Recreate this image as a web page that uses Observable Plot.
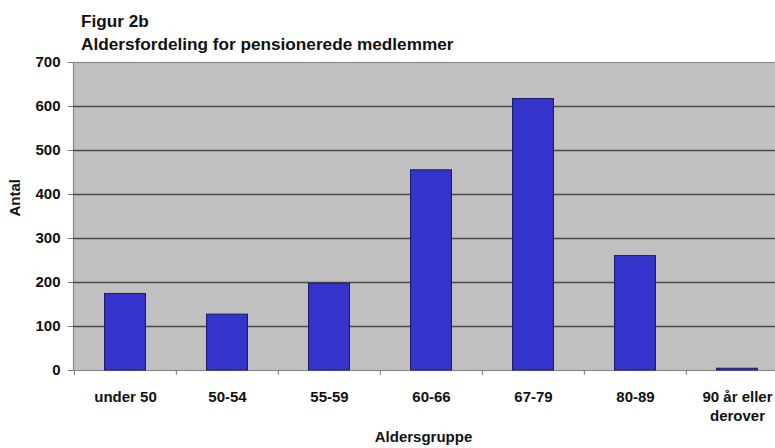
<!DOCTYPE html>
<html>
<head>
<meta charset="utf-8">
<script src="https://cdn.jsdelivr.net/npm/d3@7"></script>
<script src="https://cdn.jsdelivr.net/npm/@observablehq/plot@0.6"></script>
<style>
  html, body { margin: 0; padding: 0; background: #fff; }
  #header { height: 52px; box-sizing: border-box; padding: 10px 0 0 81px; font-family: "Liberation Sans", Arial, sans-serif; font-weight: bold; font-size: 17.2px; line-height: 23px; color: #111; overflow: visible; white-space: nowrap; }
  #chart svg { display: block; }
</style>
</head>
<body>
<div id="header"><div>Figur 2b</div><div>Aldersfordeling for pensionerede medlemmer</div></div>
<div id="chart"></div>
<script>
const categories = ["under 50", "50-54", "55-59", "60-66", "67-79", "80-89", "90 år eller derover"];
const antal = [174, 127, 197, 455, 617, 260, 4];
const yTicks = [0, 100, 200, 300, 400, 500, 600, 700];
const gridTicks = [100, 200, 300, 400, 500, 600];
const tickLabels = {"90 år eller derover": "90 år eller\nderover"};

const data = categories.map((c, i) => ({group: c, value: antal[i]}));

const width = 775, height = 396;
const marginLeft = 73, marginRight = -14;
const step = (width - marginRight - marginLeft) / categories.length;

const chart = Plot.plot({
  width, height,
  marginTop: 10, marginBottom: 78, marginLeft, marginRight,
  style: {fontFamily: "'Liberation Sans', Arial, sans-serif", fontSize: "15px", color: "#111", background: "#fff"},
  x: {type: "band", domain: categories, padding: 0},
  y: {domain: [0, 700]},
  marks: [
    Plot.frame({fill: "#c0c0c0", stroke: "#8a8a8a", strokeWidth: 1.2}),
    Plot.ruleY(gridTicks, {stroke: "#4a4a4a", strokeWidth: 1.4}),
    Plot.barY(data, {x: "group", y: "value", fill: "#3434cc", stroke: "#1c1c66", strokeWidth: 1, insetLeft: 30.5, insetRight: 30.5}),
    Plot.axisY({ticks: yTicks, tickSize: 5, tickPadding: 8, label: null, stroke: "#777", fontWeight: "bold"}),
    Plot.axisX({tickSize: 5, tickFormat: () => "", dx: -step / 2, label: null, stroke: "#777"}),
    Plot.axisX({tickSize: 0, tickPadding: 18, label: null, fontWeight: "bold", lineHeight: 1.27, tickFormat: d => tickLabels[d] || d}),
    Plot.text(["Antal"], {frameAnchor: "left", rotate: -90, dx: -58, fontWeight: "bold", fontSize: 15}),
    Plot.text(["Aldersgruppe"], {frameAnchor: "bottom", dy: 71, dx: -8, fontWeight: "bold", fontSize: 15})
  ]
});
document.getElementById("chart").append(chart);
</script>
</body>
</html>
